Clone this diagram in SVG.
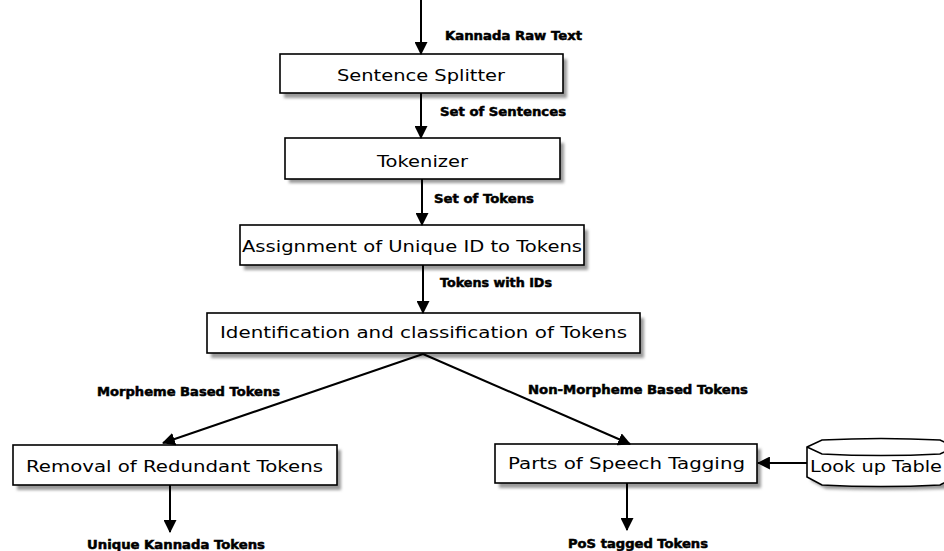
<svg xmlns="http://www.w3.org/2000/svg" width="944" height="551" viewBox="0 0 944 551">
<style>
.box{fill:#fff;stroke:#000;stroke-width:1.6}
.shadow{fill:#9a9a9a;filter:url(#blur)}
.ntext{font-family:"DejaVu Sans",sans-serif;font-size:16px;fill:#000;text-anchor:start}
.ltext{font-family:"DejaVu Sans",sans-serif;font-weight:bold;font-size:12px;fill:#000;stroke:#000;stroke-width:0.5}
.conn{stroke:#000;stroke-width:2;fill:none;marker-end:url(#arr)}
</style>
<defs>
<filter id="blur" x="-5%" y="-20%" width="110%" height="140%"><feGaussianBlur stdDeviation="1.5"/></filter>
<marker id="arr" viewBox="0 0 12 12" refX="11" refY="6" markerWidth="6.5" markerHeight="6.5" orient="auto" markerUnits="strokeWidth">
<path d="M0,0 L12,6 L0,12 Z" fill="#000"/>
</marker>
</defs>
<rect width="944" height="551" fill="#fff"/>

<g id="n-splitter">
<rect class="shadow" x="284" y="59" width="283" height="39"/>
<rect class="box" x="280" y="54" width="283" height="39"/>
<text class="ntext" x="337" y="81" textLength="168" lengthAdjust="spacingAndGlyphs">Sentence Splitter</text>
</g>
<g id="n-tokenizer">
<rect class="shadow" x="289" y="143" width="275" height="40"/>
<rect class="box" x="285" y="138" width="275" height="41"/>
<text class="ntext" x="377" y="167" textLength="91" lengthAdjust="spacingAndGlyphs">Tokenizer</text>
</g>
<g id="n-assign">
<rect class="shadow" x="244" y="230" width="344" height="40"/>
<rect class="box" x="240" y="225" width="344" height="40"/>
<text class="ntext" x="242" y="252" textLength="340" lengthAdjust="spacingAndGlyphs">Assignment of Unique ID to Tokens</text>
</g>
<g id="n-ident">
<rect class="shadow" x="211" y="318" width="433" height="40"/>
<rect class="box" x="207" y="313" width="433" height="40"/>
<text class="ntext" x="220" y="338" textLength="407" lengthAdjust="spacingAndGlyphs">Identification and classification of Tokens</text>
</g>
<g id="n-removal">
<rect class="shadow" x="17" y="450" width="324" height="40"/>
<rect class="box" x="13" y="445" width="324" height="40"/>
<text class="ntext" x="26" y="472" textLength="297" lengthAdjust="spacingAndGlyphs">Removal of Redundant Tokens</text>
</g>
<g id="n-pos">
<rect class="shadow" x="499" y="449" width="262" height="39"/>
<rect class="box" x="495" y="444" width="262" height="39"/>
<text class="ntext" x="508" y="469" textLength="237" lengthAdjust="spacingAndGlyphs">Parts of Speech Tagging</text>
</g>
<g id="n-lookup">
<path d="M811,452 L811,481 L826,489 Q885,491 944,489 L963,481 L963,452 Z" class="shadow"/>
<path d="M807,447 L822,440 Q881,437 940,440 L955,447 L955,477 L940,485 Q881,488 822,485 L807,477 Z" class="box"/>
<path d="M807,447 L822,454 Q881,457 940,454 L955,447" fill="none" stroke="#000" stroke-width="1.6"/>
<text class="ntext" x="810" y="472" textLength="132" lengthAdjust="spacingAndGlyphs">Look up Table</text>
</g>

<g id="connectors">
<line class="conn" x1="421" y1="0" x2="421" y2="54"/>
<line class="conn" x1="421" y1="93" x2="421" y2="138"/>
<line class="conn" x1="422" y1="179" x2="422" y2="225"/>
<line class="conn" x1="423" y1="265" x2="423" y2="313"/>
<line class="conn" x1="423" y1="354" x2="163" y2="443"/>
<line class="conn" x1="423" y1="354" x2="630" y2="444"/>
<line class="conn" x1="170" y1="485" x2="170" y2="532"/>
<line class="conn" x1="627" y1="483" x2="627" y2="530"/>
<line class="conn" x1="807" y1="463" x2="758" y2="463"/>
<text class="ltext" x="445" y="40" textLength="137" lengthAdjust="spacingAndGlyphs">Kannada Raw Text</text>
<text class="ltext" x="440" y="116" textLength="126" lengthAdjust="spacingAndGlyphs">Set of Sentences</text>
<text class="ltext" x="434" y="203" textLength="100" lengthAdjust="spacingAndGlyphs">Set of Tokens</text>
<text class="ltext" x="440" y="287" textLength="112" lengthAdjust="spacingAndGlyphs">Tokens with IDs</text>
<text class="ltext" x="97" y="396" textLength="183" lengthAdjust="spacingAndGlyphs">Morpheme Based Tokens</text>
<text class="ltext" x="528" y="394" textLength="220" lengthAdjust="spacingAndGlyphs">Non-Morpheme Based Tokens</text>
<text class="ltext" x="87" y="549" textLength="178" lengthAdjust="spacingAndGlyphs">Unique Kannada Tokens</text>
<text class="ltext" x="568" y="548" textLength="140" lengthAdjust="spacingAndGlyphs">PoS tagged Tokens</text>
</g>
</svg>
